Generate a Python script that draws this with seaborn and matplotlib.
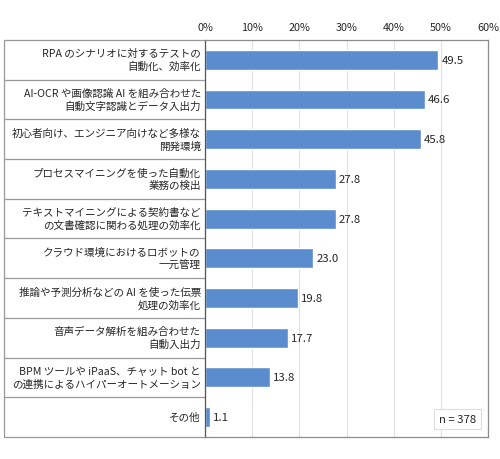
import matplotlib
matplotlib.use("Agg")
import matplotlib.pyplot as plt
import seaborn as sns
import pandas as pd
from matplotlib.lines import Line2D

# data (percent, n=378)
items = [
    "RPA のシナリオに対するテストの\n自動化、効率化",
    "AI-OCR や画像認識 AI を組み合わせた\n自動文字認識とデータ入出力",
    "初心者向け、エンジニア向けなど多様な\n開発環境",
    "プロセスマイニングを使った自動化\n業務の検出",
    "テキストマイニングによる契約書など\nの文書確認に関わる処理の効率化",
    "クラウド環境におけるロボットの\n一元管理",
    "推論や予測分析などの AI を使った伝票\n処理の効率化",
    "音声データ解析を組み合わせた\n自動入出力",
    "BPM ツールや iPaaS、チャット bot と\nの連携によるハイパーオートメーション",
    "その他",
]
values = [49.5, 46.6, 45.8, 27.8, 27.8, 23.0, 19.8, 17.7, 13.8, 1.1]
xticks = [0, 10, 20, 30, 40, 50, 60]
n_label = "n = 378"

df = pd.DataFrame({"item": items, "value": values})

sns.set_style("white")
plt.rcParams['font.family'] = ['Noto Sans CJK JP', 'DejaVu Sans']

fig = plt.figure(figsize=(5, 4.6), dpi=100)
ax = fig.add_axes([0.41, 0.048, 0.566, 0.863])

sns.barplot(data=df, x="value", y="item", orient="h", color="#5B8DCE",
            saturation=1, width=0.5, ax=ax)

ax.set_xlim(0, 60)
ax.set_ylim(len(items) - 0.5, -0.5)
ax.set_xticks(xticks)
ax.set_xticklabels([f"{t}%" for t in xticks], fontsize=7.8)
ax.xaxis.tick_top()
ax.tick_params(axis="x", length=0, pad=6)
ax.set_xlabel("")
ax.set_ylabel("")
ax.set_yticks([])
ax.grid(axis="x", color="#e0e0e0", linewidth=0.8)
ax.set_axisbelow(True)

for side in ["top", "right", "bottom"]:
    ax.spines[side].set_color("#8c8c8c")
    ax.spines[side].set_linewidth(0.9)
ax.spines["left"].set_color("#555555")
ax.spines["left"].set_linewidth(0.9)

# value labels
for i, v in enumerate(values):
    ax.text(v + 0.6, i, f"{v:.1f}", va="center", ha="left", fontsize=8.2)

# label column drawn as a table to the left of the axes
left = -0.712
tr = ax.get_yaxis_transform()
for i, lab in enumerate(items):
    ax.text(-0.015, i, lab, transform=tr, ha="right", va="center",
            fontsize=7.6, linespacing=1.3, clip_on=False)
for b in [i - 0.5 for i in range(len(items) + 1)]:
    ax.add_line(Line2D([left, 0], [b, b], transform=tr, color="#999999",
                       linewidth=0.9, clip_on=False))
ax.add_line(Line2D([left, left], [-0.5, len(items) - 0.5], transform=tr,
                   color="#999999", linewidth=0.9, clip_on=False))

# sample size box
ax.text(57.5, 9.05, n_label, ha="right", va="center", fontsize=8.2,
        bbox=dict(boxstyle="square,pad=0.45", facecolor="white",
                  edgecolor="#dddddd", linewidth=0.8))

fig.savefig("out.png", dpi=100)
